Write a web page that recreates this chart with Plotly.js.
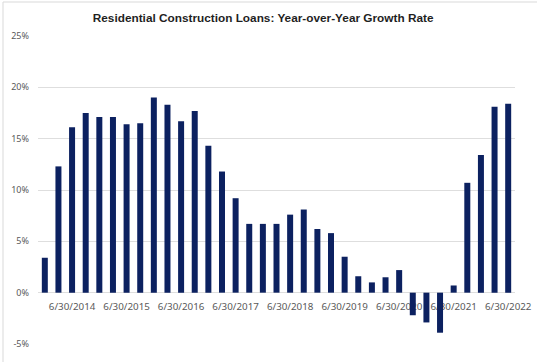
<!DOCTYPE html>
<html>
<head>
<meta charset="utf-8">
<script src="https://cdn.plot.ly/plotly-3.0.1.min.js"></script>
<style>html,body{margin:0;padding:0;background:#fff;}#chart{width:537px;height:362px;}</style>
</head>
<body>
<div id="chart"></div>
<script>
var quarters = ["12/31/2013","3/31/2014","6/30/2014","9/30/2014","12/31/2014","3/31/2015","6/30/2015","9/30/2015","12/31/2015","3/31/2016","6/30/2016","9/30/2016","12/31/2016","3/31/2017","6/30/2017","9/30/2017","12/31/2017","3/31/2018","6/30/2018","9/30/2018","12/31/2018","3/31/2019","6/30/2019","9/30/2019","12/31/2019","3/31/2020","6/30/2020","9/30/2020","12/31/2020","3/31/2021","6/30/2021","9/30/2021","12/31/2021","3/31/2022","6/30/2022"];
var growthRate = [3.4,12.3,16.1,17.5,17.1,17.1,16.4,16.5,19.0,18.3,16.7,17.7,14.3,11.8,9.2,6.7,6.7,6.7,7.6,8.1,6.2,5.8,3.5,1.6,1.0,1.5,2.2,-2.2,-2.9,-3.9,0.7,10.7,13.4,18.1,18.4];
var tickLabels = ["6/30/2014","6/30/2015","6/30/2016","6/30/2017","6/30/2018","6/30/2019","6/30/2020","6/30/2021","6/30/2022"];
var yTicks = [-5,0,5,10,15,20,25];
var yTickLabels = ["-5%","0%","5%","10%","15%","20%","25%"];
var titleText = "Residential Construction Loans: Year-over-Year Growth Rate";

var trace = {
  type: 'bar',
  x: quarters,
  y: growthRate,
  marker: {color: '#0c2160'},
  hoverinfo: 'x+y'
};
var layout = {
  width: 537, height: 362,
  margin: {l: 38, r: 22, t: 36, b: 18, pad: 0},
  paper_bgcolor: '#ffffff', plot_bgcolor: '#ffffff',
  bargap: 0.56,
  showlegend: false,
  title: {text: '<b>' + titleText + '</b>', x: 0.49, xanchor: 'center', y: 0.95, yanchor: 'middle',
          font: {family: 'Liberation Sans, Arial, sans-serif', size: 11.8, color: '#1f1f1f'}},
  xaxis: {
    type: 'category', categoryorder: 'array', categoryarray: quarters,
    tickvals: tickLabels, ticktext: tickLabels,
    anchor: 'free', position: 5/30,
    showgrid: false, zeroline: false, showline: false,
    ticks: 'outside', ticklen: 5, tickcolor: 'rgba(0,0,0,0)',
    tickangle: 0,
    tickfont: {family: 'Noto Sans, sans-serif', size: 9.8, color: '#595959'},
    layer: 'below traces'
  },
  yaxis: {
    range: [-5, 25], tickmode: 'array', tickvals: yTicks, ticktext: yTickLabels,
    showgrid: true, gridcolor: '#dedede', gridwidth: 1,
    zeroline: true, zerolinecolor: '#dedede', zerolinewidth: 1,
    showline: false, ticks: '', ticklabelstandoff: 8,
    tickfont: {family: 'Noto Sans, sans-serif', size: 9, color: '#595959'}
  },
  shapes: [{
    type: 'rect', xref: 'paper', yref: 'paper',
    x0: (3 - 38) / 477, x1: 1.2, y0: -0.2, y1: (344 - 2) / 308,
    line: {color: '#d9d9d9', width: 1}, fillcolor: 'rgba(0,0,0,0)', layer: 'below'
  }]
};
Plotly.newPlot('chart', [trace], layout, {staticPlot: true, displayModeBar: false});
</script>
</body>
</html>
